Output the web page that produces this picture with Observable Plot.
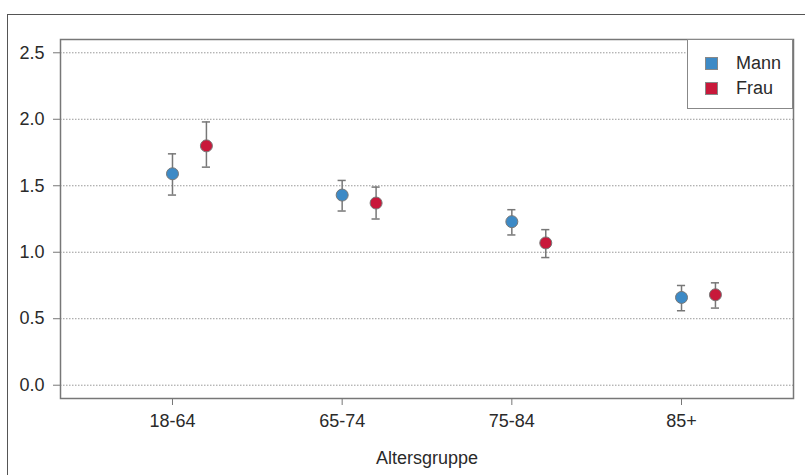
<!DOCTYPE html>
<html>
<head>
<meta charset="utf-8">
<script src="https://cdn.jsdelivr.net/npm/d3@7"></script>
<script src="https://cdn.jsdelivr.net/npm/@observablehq/plot@0.6"></script>
<style>
  html, body { margin: 0; padding: 0; background: #fff; }
  #wrap { position: relative; width: 805px; height: 475px; overflow: hidden; font-family: "Liberation Sans", Arial, sans-serif; }
  #outer { position: absolute; left: 7px; top: 14px; width: 810px; height: 500px; border-left: 1.5px solid #555; border-top: 1.5px solid #555; box-sizing: border-box; }
  #legend { position: absolute; left: 687px; top: 39px; width: 106px; height: 70px; box-sizing: border-box; border: 1px solid #888; background: #fff; }
  .li { position: absolute; left: 17px; height: 20px; display: flex; align-items: center; font-size: 18px; color: #2a2a2a; }
  .sw { width: 13px; height: 13px; box-sizing: border-box; border: 1px solid #888; margin-right: 18px; }
  svg { position: absolute; left: 0; top: 0; }
</style>
</head>
<body>
<div id="wrap"><div id="outer"></div></div>
<script>
const categories = ["18-64", "65-74", "75-84", "85+"];
const series = ["Mann", "Frau"];
const colors = ["#3d8ac6", "#c8183a"];
const mannMean = [1.59, 1.43, 1.23, 0.66];
const mannLow  = [1.43, 1.31, 1.13, 0.56];
const mannHigh = [1.74, 1.54, 1.32, 0.75];
const frauMean = [1.80, 1.37, 1.07, 0.68];
const frauLow  = [1.64, 1.25, 0.96, 0.58];
const frauHigh = [1.98, 1.49, 1.17, 0.77];
const yTicks = [0, 0.5, 1.0, 1.5, 2.0, 2.5];

const offset = {Mann: 0, Frau: 0.2};
const capHalf = 0.024;
const rows = [];
categories.forEach((c, i) => {
  rows.push({cat: c, sex: "Mann", x: i + 1 + offset.Mann, mean: mannMean[i], lo: mannLow[i], hi: mannHigh[i]});
  rows.push({cat: c, sex: "Frau", x: i + 1 + offset.Frau, mean: frauMean[i], lo: frauLow[i], hi: frauHigh[i]});
});

const chart = Plot.plot({
  width: 805,
  height: 475,
  marginLeft: 60,
  marginRight: 12,
  marginTop: 39,
  marginBottom: 77,
  style: {fontFamily: "'Liberation Sans', Arial, sans-serif", fontSize: "18px", color: "#2a2a2a", background: "transparent"},
  x: {domain: [0.34, 4.66]},
  y: {domain: [-0.1, 2.6]},
  color: {domain: series, range: colors},
  marks: [
    Plot.ruleY(yTicks, {stroke: "#999", strokeWidth: 1, strokeDasharray: "1.5,1.5"}),
    Plot.ruleX(rows, {x: "x", y1: "lo", y2: "hi", stroke: "#777", strokeWidth: 1.5}),
    Plot.ruleY(rows, {y: "lo", x1: d => d.x - capHalf, x2: d => d.x + capHalf, stroke: "#777", strokeWidth: 1.5}),
    Plot.ruleY(rows, {y: "hi", x1: d => d.x - capHalf, x2: d => d.x + capHalf, stroke: "#777", strokeWidth: 1.5}),
    Plot.dot(rows, {x: "x", y: "mean", r: 6, fill: "sex", stroke: "#777", strokeWidth: 1}),
    Plot.frame({stroke: "#777", strokeWidth: 1.5}),
    Plot.axisY({ticks: yTicks, tickFormat: d3.format(".1f"), tickSize: 7, tickPadding: 9, stroke: "#777", fill: "#2a2a2a", label: null}),
    Plot.axisX({ticks: [1, 2, 3, 4], tickFormat: d => categories[d - 1], tickSize: 7, tickPadding: 9, stroke: "#777", fill: "#2a2a2a",
      label: "Altersgruppe", labelAnchor: "center", labelArrow: "none", labelOffset: 65})
  ]
});
const wrap = document.getElementById("wrap");
wrap.appendChild(chart);

const legend = document.createElement("div");
legend.id = "legend";
series.forEach((s, i) => {
  const item = document.createElement("div");
  item.className = "li";
  item.style.top = (13 + i * 25) + "px";
  const sw = document.createElement("div");
  sw.className = "sw";
  sw.style.background = colors[i];
  item.appendChild(sw);
  item.appendChild(document.createTextNode(s));
  legend.appendChild(item);
});
wrap.appendChild(legend);
</script>
</body>
</html>
